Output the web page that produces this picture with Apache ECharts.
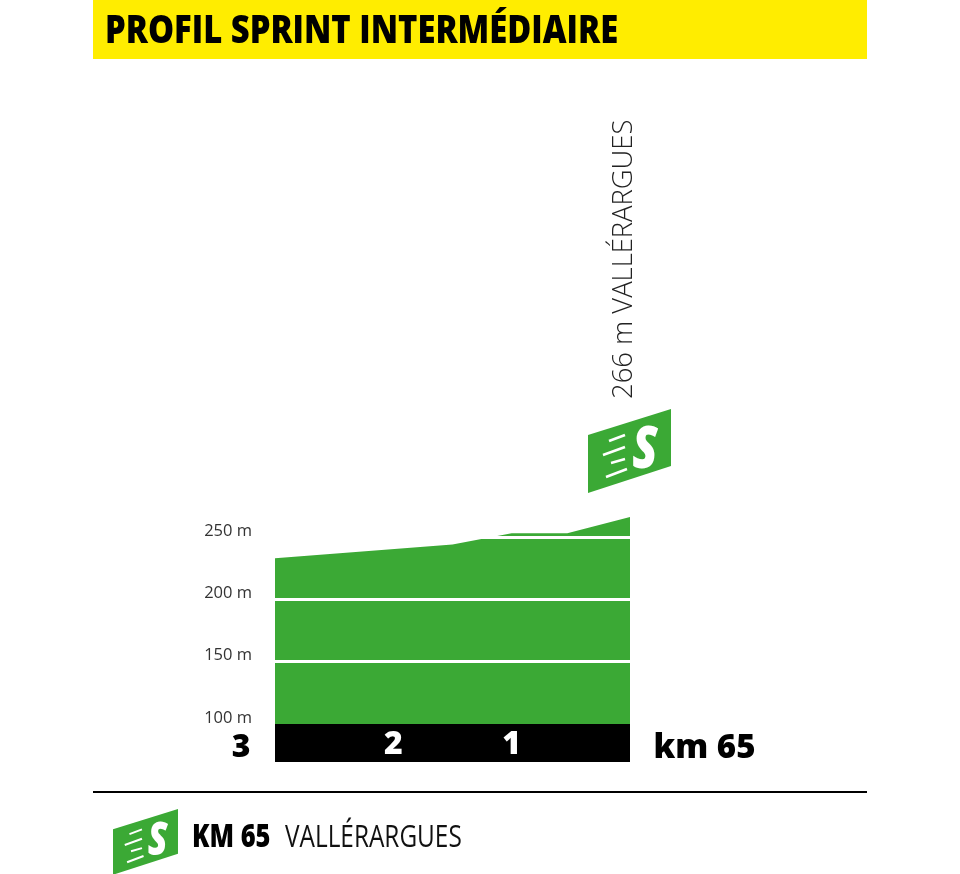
<!DOCTYPE html>
<html>
<head>
<meta charset="utf-8">
<style>html,body{margin:0;padding:0;background:#fff}#main{width:960px;height:874px}</style>
<script src="https://cdn.jsdelivr.net/npm/echarts@6/dist/echarts.min.js"></script>
</head>
<body>
<div id="main"></div>
<script>
var kmToGo = [3, 1.5, 1, 0.53, 0];
var altitudes = [233, 244, 253, 253, 266];
var altTicks = [100, 150, 200, 250];
var titleText = 'PROFIL SPRINT INTERMÉDIAIRE';
var pointLabel = '266 m VALLÉRARGUES';
var footKm = 'KM 65';
var footName = 'VALLÉRARGUES';
var endLabel = 'km 65';

var GREEN = '#3ba935';
var FONT = '"Open Sans", sans-serif';

// sprint badge, drawn in the coordinates of the big one
function badge(x, y, s) {
    var lines = [[21, 32, 37, 26], [15, 46, 37, 38], [23, 54, 37, 50], [18, 68, 39, 60]];
    var children = [{
        type: 'polygon',
        shape: { points: [[0, 26], [83, 0], [83, 57], [0, 84]] },
        style: { fill: GREEN }
    }, {
        type: 'text',
        x: 57,
        y: 42,
        scaleX: 0.8,
        style: { text: 'S', fill: '#fff', font: 'italic 800 58px ' + FONT, align: 'center', verticalAlign: 'middle' }
    }];
    lines.forEach(function (l) {
        children.push({
            type: 'line',
            shape: { x1: l[0], y1: l[1], x2: l[2], y2: l[3] },
            style: { stroke: '#fff', lineWidth: 2.5 }
        });
    });
    return { type: 'group', x: x, y: y, scaleX: s, scaleY: s, children: children };
}

var myChart = echarts.init(document.getElementById('main'));
var data = kmToGo.map(function (k, i) { return [k, altitudes[i]]; });

var option = {
    backgroundColor: '#fff',
    animation: false,
    grid: { left: 275, width: 355, top: 474.67, height: 249.33 },
    xAxis: {
        type: 'value',
        inverse: true,
        min: 0,
        max: 3,
        interval: 1,
        offset: 19,
        splitLine: { show: false },
        axisTick: { show: false },
        axisLine: { show: true, onZero: false, lineStyle: { color: '#000', width: 38, cap: 'butt' } },
        axisLabel: {
            margin: -14,
            showMinLabel: true,
            showMaxLabel: true,
            formatter: function (v) {
                if (v === 0) return '{end|' + endLabel + '}';
                if (v === 3) return '{start|3}';
                return '{mid|' + v + '}';
            },
            rich: {
                mid: { color: '#fff', fontFamily: FONT, fontWeight: 800, fontSize: 32 },
                start: { color: '#000', fontFamily: FONT, fontWeight: 800, fontSize: 32, padding: [3, 68, 0, 0] },
                end: { color: '#000', fontFamily: FONT, fontWeight: 800, fontSize: 33, padding: [3, 0, 0, 149] }
            }
        }
    },
    yAxis: {
        type: 'value',
        min: 100,
        max: 300,
        interval: 50,
        z: 5,
        axisLine: { show: false },
        axisTick: { show: false },
        splitLine: { show: true, showMinLine: false, showMaxLine: false, lineStyle: { color: '#fff', width: 3 } },
        axisLabel: {
            customValues: altTicks,
            margin: 23,
            color: '#333',
            fontFamily: FONT,
            fontSize: 16.5,
            verticalAlign: 'bottom',
            lineHeight: 12,
            formatter: '{value} m'
        }
    },
    series: [{
        type: 'line',
        data: data,
        symbol: 'none',
        z: 2,
        lineStyle: { width: 0 },
        areaStyle: { color: GREEN, opacity: 1 }
    }],
    graphic: [
        { type: 'rect', z: 10, shape: { x: 93, y: 0, width: 774, height: 59 }, style: { fill: '#ffed00' } },
        { type: 'text', z: 11, x: 105, y: 32, scaleX: 0.863, style: { text: titleText, fill: '#000', font: '800 38px ' + FONT, verticalAlign: 'middle' } },
        { type: 'text', z: 11, x: 624, y: 399, rotation: Math.PI / 2, style: { text: pointLabel, fill: '#222', font: '300 27.4px ' + FONT, align: 'left', verticalAlign: 'middle' } },
        { type: 'line', z: 11, shape: { x1: 93, y1: 792, x2: 867, y2: 792 }, style: { stroke: '#000', lineWidth: 2 } },
        { type: 'text', z: 11, x: 192, y: 838, scaleX: 0.82, style: { text: footKm, fill: '#000', font: '800 31px ' + FONT, verticalAlign: 'middle' } },
        { type: 'text', z: 11, x: 285, y: 838, scaleX: 0.786, style: { text: footName, fill: '#111', font: '400 31px ' + FONT, verticalAlign: 'middle' } },
        Object.assign(badge(588, 409, 1), { z: 11 }),
        Object.assign(badge(113, 809, 0.783), { z: 11 })
    ]
};

myChart.setOption(option);
window.addEventListener('resize', function () {
    myChart.resize();
});
</script>
</body>
</html>
